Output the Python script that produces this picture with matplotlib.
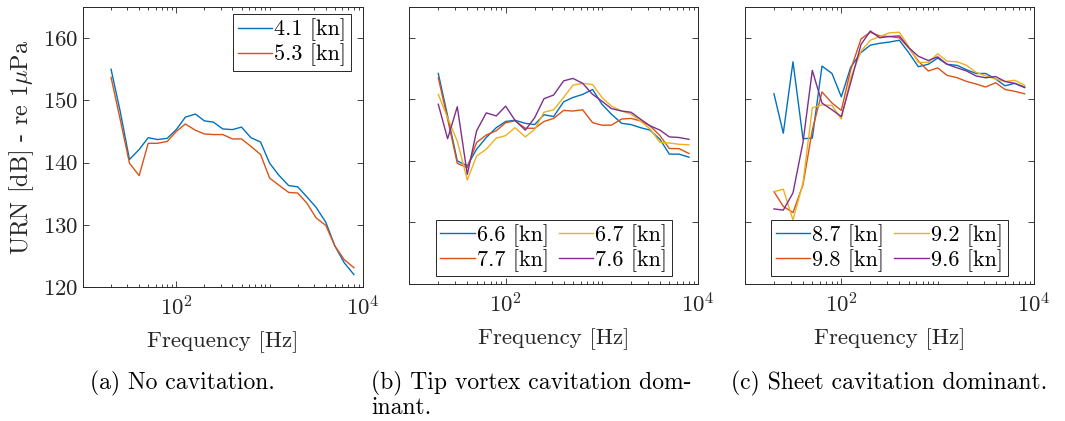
import matplotlib.pyplot as plt
from matplotlib.ticker import FixedLocator, LogLocator, NullFormatter

plt.rcParams['font.family'] = 'cmr10'
plt.rcParams['mathtext.fontset'] = 'cm'
plt.rcParams['axes.formatter.use_mathtext'] = True

# one-third octave band centre frequencies [Hz]
freq = [20, 25, 31.5, 40, 50, 63, 80, 100, 125, 160, 200, 250, 315, 400,
        500, 630, 800, 1000, 1250, 1600, 2000, 2500, 3150, 4000, 5000, 6300, 8000]

# (a) no cavitation
urn_41 = [155.0, 148.3, 140.5, 142.1, 144.0, 143.7, 143.9, 145.3, 147.3, 147.8,
          146.7, 146.5, 145.4, 145.3, 145.7, 144.0, 143.3, 139.9, 138.0, 136.3,
          136.1, 134.5, 132.8, 130.4, 126.6, 123.9, 122.0]
urn_53 = [153.7, 147.0, 139.9, 137.9, 143.1, 143.1, 143.4, 145.0, 146.2, 145.2,
          144.6, 144.5, 144.5, 143.8, 143.8, 142.6, 141.3, 137.5, 136.4, 135.2,
          135.1, 133.5, 131.1, 129.9, 126.6, 124.4, 123.1]

# (b) tip vortex cavitation dominant
urn_66 = [154.2, 147.3, 140.0, 139.2, 141.9, 143.8, 145.4, 146.4, 146.6, 146.1,
          145.9, 147.5, 147.2, 149.6, 150.3, 150.8, 151.6, 149.2, 147.6, 146.1,
          145.9, 145.4, 145.0, 143.5, 141.1, 141.1, 140.6]
urn_77 = [153.5, 146.8, 139.6, 138.9, 143.0, 144.2, 144.9, 146.2, 146.5, 145.3,
          145.3, 146.4, 146.9, 148.2, 148.1, 148.3, 146.2, 145.8, 145.8, 146.8,
          146.9, 146.5, 145.7, 144.1, 142.0, 142.0, 141.2]
urn_67 = [150.8, 147.0, 143.2, 136.9, 140.8, 141.9, 143.7, 144.1, 145.4, 143.9,
          145.1, 147.9, 148.3, 150.3, 152.3, 152.6, 152.4, 150.3, 148.9, 148.1,
          147.6, 146.5, 145.2, 143.0, 142.9, 142.7, 142.6]
urn_76 = [149.2, 143.6, 148.8, 137.8, 144.9, 147.8, 147.3, 148.9, 146.6, 145.0,
          147.0, 150.1, 150.7, 153.0, 153.4, 152.6, 150.8, 149.7, 148.5, 148.1,
          147.9, 146.8, 145.7, 145.0, 143.9, 143.8, 143.5]

# (c) sheet cavitation dominant
urn_87 = [150.9, 144.5, 156.1, 143.6, 143.7, 155.4, 154.2, 150.4, 155.2, 157.6,
          158.8, 159.1, 159.3, 159.6, 157.6, 155.3, 155.7, 156.7, 155.7, 155.5,
          154.8, 154.2, 154.2, 153.3, 152.2, 152.6, 152.0]
urn_98 = [135.0, 132.6, 131.6, 136.1, 145.0, 151.2, 149.4, 148.2, 154.8, 159.8,
          160.9, 160.3, 160.2, 160.0, 158.4, 156.2, 154.6, 155.1, 153.9, 153.5,
          152.9, 152.5, 152.0, 152.7, 151.6, 151.3, 150.9]
urn_92 = [135.0, 135.4, 130.4, 136.4, 148.6, 149.1, 149.0, 146.8, 153.5, 157.8,
          159.6, 160.2, 160.8, 160.9, 158.6, 156.0, 156.0, 157.4, 156.2, 156.1,
          155.5, 154.4, 153.8, 153.3, 152.9, 153.1, 152.3]
urn_96 = [132.2, 132.0, 134.8, 143.0, 154.7, 149.4, 148.3, 147.2, 152.7, 158.9,
          161.1, 160.0, 160.2, 160.3, 158.4, 157.0, 156.3, 156.9, 155.7, 155.1,
          154.6, 153.8, 153.5, 153.7, 152.9, 152.6, 151.9]

colors = ['#0072BD', '#D95319', '#EDB120', '#7E2F8E']
axis_col = '#262626'


def style_axis(ax, ylabels=True):
    ax.set_xscale('log')
    ax.set_xlim(10, 1e4)
    ax.set_ylim(120, 165)
    ax.xaxis.set_major_locator(FixedLocator([1e2, 1e4]))
    ax.xaxis.set_minor_locator(LogLocator(base=10, subs=range(1, 10), numticks=20))
    ax.xaxis.set_minor_formatter(NullFormatter())
    ax.set_yticks([120, 130, 140, 150, 160])
    if not ylabels:
        ax.set_yticklabels([])
    ax.tick_params(which='both', direction='in', top=True, right=True,
                   labelsize=16.5, colors=axis_col, width=0.6)
    ax.tick_params(which='major', length=4)
    ax.tick_params(which='minor', length=2)
    ax.tick_params(axis='x', pad=5.5)
    for s in ax.spines.values():
        s.set_color(axis_col)
        s.set_linewidth(0.7)
    ax.set_xlabel('Frequency [Hz]', fontsize=16.5, color=axis_col, labelpad=9)


def legend(ax, **kw):
    leg = ax.legend(fontsize=16, fancybox=False, edgecolor=axis_col,
                    framealpha=1, handlelength=1.55, handletextpad=0.1,
                    borderpad=0.2, labelspacing=0.1, **kw)
    leg.get_frame().set_linewidth(0.7)


fig = plt.figure(figsize=(10.65, 4.21), dpi=100)
ax_a = fig.add_axes([0.0779, 0.3183, 0.2629, 0.665])
ax_b = fig.add_axes([0.3843, 0.3254, 0.2714, 0.658])
ax_c = fig.add_axes([0.6995, 0.3254, 0.2714, 0.658])

ax_a.plot(freq, urn_41, color=colors[0], lw=1.0, label='4.1 [kn]')
ax_a.plot(freq, urn_53, color=colors[1], lw=1.0, label='5.3 [kn]')
style_axis(ax_a)
ax_a.set_ylabel(r'URN [dB] - re 1$\mu$Pa', fontsize=17.4, color=axis_col, labelpad=5)
legend(ax_a, loc='upper right', bbox_to_anchor=(0.957, 0.975), borderaxespad=0)

for ys, lab, c in zip([urn_66, urn_77, urn_67, urn_76],
                      ['6.6 [kn]', '7.7 [kn]', '6.7 [kn]', '7.6 [kn]'], colors):
    ax_b.plot(freq, ys, color=c, lw=1.0, label=lab)
style_axis(ax_b, ylabels=False)
legend(ax_b, loc='lower center', ncol=2, columnspacing=0.45, borderaxespad=0.35)

for ys, lab, c in zip([urn_87, urn_98, urn_92, urn_96],
                      ['8.7 [kn]', '9.8 [kn]', '9.2 [kn]', '9.6 [kn]'], colors):
    ax_c.plot(freq, ys, color=c, lw=1.0, label=lab)
style_axis(ax_c, ylabels=False)
legend(ax_c, loc='lower center', ncol=2, columnspacing=0.45, borderaxespad=0.35)

# sub-figure captions
cap = dict(fontsize=17, va='center')
fig.text(90 / 1065, 1 - 383 / 421, '(a) No cavitation.', **cap)
fig.text(371 / 1065, 1 - 383 / 421, '(b) Tip vortex cavitation dom-', **cap)
fig.text(371 / 1065, 1 - 408 / 421, 'inant.', **cap)
fig.text(731 / 1065, 1 - 383 / 421, '(c) Sheet cavitation dominant.', **cap)

fig.savefig('out.png', dpi=100)
